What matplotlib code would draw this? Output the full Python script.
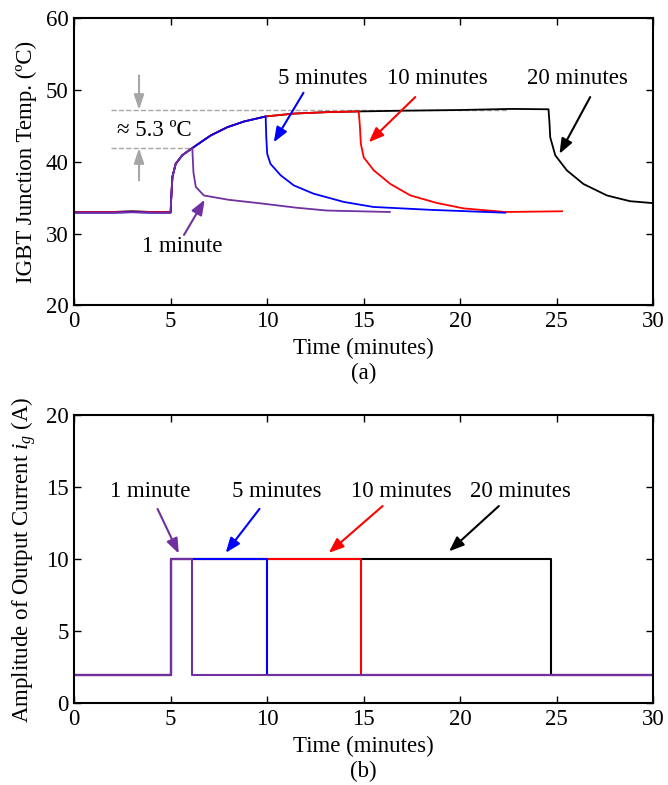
import numpy as np
import matplotlib
matplotlib.use('Agg')
import matplotlib.pyplot as plt

# ---- (a) junction temperature ----
t_20min = [0, 2.0, 3.0, 4.0, 5.0, 5.02, 5.09, 5.26, 5.6, 6.12, 7.07, 7.93, 8.8, 9.92, 11.38, 13.1,
           14.74, 17.0, 20.0, 22.68, 24.57, 24.62, 24.66, 24.92, 25.52, 26.38, 27.6, 28.8, 29.92]
T_20min = [33.0, 33.0, 33.1, 33.0, 33.0, 34.5, 37.9, 39.7, 40.9, 41.9, 43.65, 44.8, 45.6, 46.3, 46.7, 46.9,
           47.0, 47.1, 47.2, 47.35, 47.3, 45.5, 43.4, 40.9, 38.8, 36.9, 35.3, 34.5, 34.25]

t_10min = [0, 2.0, 3.0, 4.0, 5.0, 5.02, 5.09, 5.26, 5.6, 6.12, 7.07, 7.93, 8.8, 9.92, 11.38, 13.1,
           14.74, 14.8, 14.85, 15.0, 15.52, 16.38, 17.42, 18.8, 20.18, 22.33, 25.27]
T_10min = [33.0, 33.0, 33.05, 33.0, 33.0, 34.5, 37.9, 39.7, 40.9, 41.9, 43.65, 44.8, 45.6, 46.3, 46.7, 46.9,
           47.0, 45.0, 42.5, 40.6, 38.8, 36.9, 35.3, 34.25, 33.5, 33.0, 33.1]

t_5min = [0, 2.0, 3.0, 4.0, 5.0, 5.02, 5.09, 5.26, 5.6, 6.12, 7.07, 7.93, 8.8, 9.92,
          9.95, 10.0, 10.17, 10.7, 11.38, 12.4, 13.97, 15.5, 18.45, 22.33]
T_5min = [32.9, 32.9, 33.0, 32.9, 32.9, 34.5, 37.9, 39.7, 40.9, 41.9, 43.65, 44.8, 45.6, 46.3,
          43.5, 41.1, 39.7, 38.1, 36.7, 35.55, 34.4, 33.7, 33.3, 32.9]

t_1min = [0, 2.0, 3.0, 4.0, 5.0, 5.02, 5.09, 5.26, 5.6, 6.12, 6.18, 6.3, 6.72, 8.0, 9.66, 11.5, 13.1, 16.35]
T_1min = [32.9, 32.9, 32.95, 32.9, 32.9, 34.5, 37.9, 39.7, 40.9, 41.9, 38.5, 36.5, 35.3, 34.7, 34.2, 33.6, 33.2, 33.0]

# ---- (b) output current amplitude ----
t_cur_20 = [0, 5.0, 5.0, 24.72, 24.72, 30]
i_cur_20 = [2, 2, 10, 10, 2, 2]
t_cur_10 = [0, 5.0, 5.0, 14.84, 14.84, 30]
i_cur_10 = [2, 2, 10, 10, 2, 2]
t_cur_5 = [0, 5.0, 5.0, 10.0, 10.0, 30]
i_cur_5 = [2, 2, 10, 10, 2, 2]
t_cur_1 = [0, 5.0, 5.0, 6.12, 6.12, 30]
i_cur_1 = [2, 2, 10, 10, 2, 2]

PURPLE = '#7030A0'
GRAY = '#a6a6a6'

plt.rcParams['font.family'] = ['Liberation Serif', 'DejaVu Serif']
plt.rcParams['mathtext.fontset'] = 'custom'
plt.rcParams['mathtext.it'] = 'Liberation Serif:italic'
plt.rcParams['mathtext.rm'] = 'Liberation Serif'
FS = 16.5


def style_axes(ax):
    ax.tick_params(direction='in', top=True, right=True, length=5, width=1, labelsize=FS, pad=4)
    for sp in ax.spines.values():
        sp.set_linewidth(1.5)
    ax.set_xlim(0, 30)
    ax.set_xticks(range(0, 31, 5))


def arrow(ax, text, xy_text, xy_tail, xy_head, color):
    ax.text(*xy_text, text, ha='center', va='center', fontsize=FS)
    ax.annotate('', xy=xy_head, xytext=xy_tail,
                arrowprops=dict(arrowstyle='-|>,head_length=0.9,head_width=0.35', color=color, lw=1.5,
                                shrinkA=0, shrinkB=0))


fig = plt.figure(figsize=(6.68, 7.85), dpi=100)
ax1 = fig.add_axes([0.111, 0.611, 0.867, 0.366])
ax2 = fig.add_axes([0.111, 0.104, 0.867, 0.367])

# ---- panel (a) ----
ax1.plot([1.9, 22.4], [47.2, 47.2], ls='--', color=GRAY, lw=1)
ax1.plot([1.9, 6.1], [41.9, 41.9], ls='--', color=GRAY, lw=1)
ax1.plot(t_20min, T_20min, color='black', lw=1.3)
ax1.plot(t_10min, T_10min, color='red', lw=1.3)
ax1.plot(t_5min, T_5min, color='blue', lw=1.3)
ax1.plot(t_1min, T_1min, color=PURPLE, lw=1.3)

ax1.annotate('', xy=(3.36, 47.2), xytext=(3.36, 52.0),
             arrowprops=dict(arrowstyle='-|>,head_length=0.9,head_width=0.3', color=GRAY, lw=1.5,
                             shrinkA=0, shrinkB=0))
ax1.annotate('', xy=(3.36, 41.9), xytext=(3.36, 37.4),
             arrowprops=dict(arrowstyle='-|>,head_length=0.9,head_width=0.3', color=GRAY, lw=1.5,
                             shrinkA=0, shrinkB=0))
ax1.text(4.14, 44.4, '≈ 5.3 ºC', ha='center', va='center', fontsize=FS)

arrow(ax1, '5 minutes', (12.9, 51.6), (11.88, 49.6), (10.34, 42.7), 'blue')
arrow(ax1, '10 minutes', (18.8, 51.6), (17.67, 49.0), (15.26, 42.7), 'red')
arrow(ax1, '20 minutes', (26.05, 51.6), (26.73, 49.0), (25.14, 41.1), 'black')
arrow(ax1, '1 minute', (5.62, 28.2), (5.69, 29.8), (6.76, 34.7), PURPLE)

style_axes(ax1)
ax1.set_ylim(20, 60)
ax1.set_yticks(range(20, 61, 10))
ax1.set_xlabel('Time (minutes)\n(a)', fontsize=FS, labelpad=4, linespacing=1.25)
ax1.set_ylabel('IGBT Junction Temp. (ºC)', fontsize=FS, labelpad=6)

# ---- panel (b) ----
ax2.plot(t_cur_20, i_cur_20, color='black', lw=1.5)
ax2.plot(t_cur_10, i_cur_10, color='red', lw=1.5)
ax2.plot(t_cur_5, i_cur_5, color='blue', lw=1.5)
ax2.plot(t_cur_1, i_cur_1, color=PURPLE, lw=1.5)

arrow(ax2, '1 minute', (3.96, 14.74), (4.32, 13.5), (5.42, 10.4), PURPLE)
arrow(ax2, '5 minutes', (10.5, 14.74), (9.6, 13.5), (7.85, 10.45), 'blue')
arrow(ax2, '10 minutes', (16.93, 14.74), (15.98, 13.7), (13.19, 10.45), 'red')
arrow(ax2, '20 minutes', (23.1, 14.74), (22.0, 13.7), (19.42, 10.55), 'black')

style_axes(ax2)
ax2.set_ylim(0, 20)
ax2.set_yticks(range(0, 21, 5))
ax2.set_xlabel('Time (minutes)\n(b)', fontsize=FS, labelpad=4, linespacing=1.25)
ax2.set_ylabel('Amplitude of Output Current $i_g$ (A)', fontsize=FS, labelpad=6)

fig.savefig('out.png', dpi=100)
